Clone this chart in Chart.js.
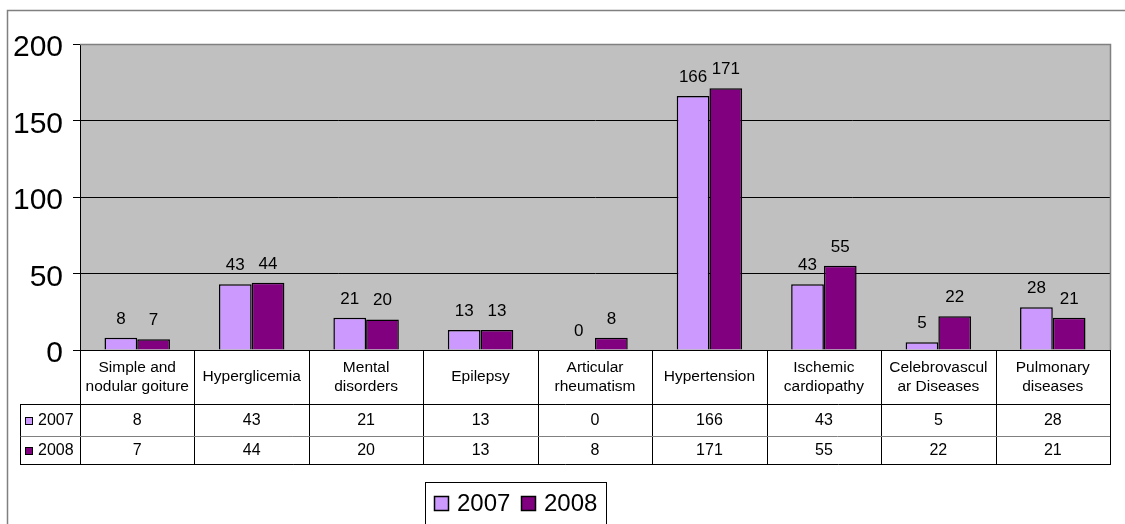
<!DOCTYPE html>
<html>
<head>
<meta charset="utf-8">
<script src="https://cdn.jsdelivr.net/npm/chart.js@4/dist/chart.umd.min.js"></script>
<style>
  html, body { margin: 0; padding: 0; background: #fff; }
  canvas { display: block; }
</style>
</head>
<body>
<canvas id="c" width="1125" height="524"></canvas>
<script>
// Disease categories (table header lines)
const categories = [
  ['Simple and', 'nodular goiture'],
  ['Hyperglicemia'],
  ['Mental', 'disorders'],
  ['Epilepsy'],
  ['Articular', 'rheumatism'],
  ['Hypertension'],
  ['Ischemic', 'cardiopathy'],
  ['Celebrovascul', 'ar Diseases'],
  ['Pulmonary', 'diseases']
];
const seriesNames = ['2007', '2008'];
const values2007 = [8, 43, 21, 13, 0, 166, 43, 5, 28];
const values2008 = [7, 44, 20, 13, 8, 171, 55, 22, 21];
const seriesColors = ['#CC99FF', '#800080'];
const yTicks = [0, 50, 100, 150, 200];

const FONT = '"Liberation Sans", Arial, Helvetica, sans-serif';

// Grey plot background, frame and outer border
const framePlugin = {
  id: 'frame',
  beforeDraw(chart) {
    const { ctx, chartArea: a } = chart;
    ctx.save();
    ctx.fillStyle = '#fff';
    ctx.fillRect(0, 0, chart.width, chart.height);
    ctx.strokeStyle = '#808080';
    ctx.lineWidth = 1.5;
    ctx.beginPath();
    ctx.moveTo(7.5, chart.height + 2);
    ctx.lineTo(7.5, 10.5);
    ctx.lineTo(chart.width + 2, 10.5);
    ctx.stroke();
    ctx.fillStyle = '#C0C0C0';
    ctx.fillRect(a.left, a.top, a.right - a.left, a.bottom - a.top);
    ctx.restore();
  },
  beforeDatasetsDraw(chart) {
    const { ctx, chartArea: a } = chart;
    ctx.save();
    ctx.strokeStyle = '#808080';
    ctx.lineWidth = 1.5;
    ctx.beginPath();
    ctx.moveTo(a.left, a.top + 0.5);
    ctx.lineTo(a.right + 0.5, a.top + 0.5);
    ctx.lineTo(a.right + 0.5, a.bottom);
    ctx.stroke();
    ctx.restore();
  }
};

// Value labels above each bar
const valueLabels = {
  id: 'valueLabels',
  afterDatasetsDraw(chart) {
    const { ctx } = chart;
    ctx.save();
    ctx.font = '17px ' + FONT;
    ctx.fillStyle = '#000';
    ctx.textAlign = 'center';
    ctx.textBaseline = 'alphabetic';
    chart.data.datasets.forEach((ds, di) => {
      chart.getDatasetMeta(di).data.forEach((el, i) => {
        ctx.fillText(String(ds.data[i]), el.x, el.y - 14);
      });
    });
    ctx.restore();
  }
};

// Data table under the plot plus the boxed legend
const dataTable = {
  id: 'dataTable',
  afterDraw(chart) {
    const { ctx, chartArea: a } = chart;
    const xs = chart.scales.x;
    const n = categories.length;
    const colW = (a.right - a.left) / n;
    const yTop = a.bottom;
    const yRow1 = yTop + 54;
    const yRow2 = yRow1 + 32;
    const yEnd = yRow2 + 28;
    const leftCol = 20.5;

    ctx.save();
    // cell borders
    ctx.lineWidth = 1;
    ctx.strokeStyle = '#000';
    ctx.beginPath();
    for (let i = 0; i <= n; i++) {
      const x = Math.round(a.left + i * colW) + 0.5;
      ctx.moveTo(x, yTop);
      ctx.lineTo(x, yEnd);
    }
    ctx.moveTo(leftCol, yRow1 + 0.5);
    ctx.lineTo(a.right + 1, yRow1 + 0.5);
    ctx.moveTo(leftCol, yEnd + 0.5);
    ctx.lineTo(a.right + 1, yEnd + 0.5);
    ctx.moveTo(leftCol, yRow1);
    ctx.lineTo(leftCol, yEnd + 1);
    ctx.stroke();
    ctx.strokeStyle = '#808080';
    ctx.beginPath();
    ctx.moveTo(leftCol, yRow2 + 0.5);
    ctx.lineTo(a.right, yRow2 + 0.5);
    ctx.stroke();

    // category names
    ctx.fillStyle = '#000';
    ctx.textAlign = 'center';
    ctx.textBaseline = 'middle';
    ctx.font = '15.5px ' + FONT;
    categories.forEach((lines, i) => {
      const cx = xs.getPixelForValue(i);
      const mid = (yTop + yRow1) / 2;
      const lh = 19;
      const start = mid - (lines.length - 1) * lh / 2;
      lines.forEach((t, k) => ctx.fillText(t, cx, start + k * lh));
    });

    // value rows
    ctx.font = '16px ' + FONT;
    const rows = [values2007, values2008];
    const rowMid = [(yRow1 + yRow2) / 2 + 1, (yRow2 + yEnd) / 2 + 1];
    rows.forEach((vals, r) => {
      vals.forEach((v, i) => ctx.fillText(String(v), xs.getPixelForValue(i), rowMid[r]));
      // series key in the first column
      ctx.fillStyle = seriesColors[r];
      ctx.fillRect(25, rowMid[r] - 4, 8, 8);
      ctx.strokeStyle = '#000';
      ctx.strokeRect(25.5, rowMid[r] - 3.5, 7, 7);
      ctx.fillStyle = '#000';
      ctx.textAlign = 'left';
      ctx.fillText(seriesNames[r], 38, rowMid[r]);
      ctx.textAlign = 'center';
    });

    // legend box
    ctx.strokeStyle = '#000';
    ctx.lineWidth = 1;
    ctx.strokeRect(425.5, 482.5, 181, 60);
    ctx.font = '24px ' + FONT;
    ctx.textAlign = 'left';
    const legendX = [434, 521];
    seriesNames.forEach((name, r) => {
      ctx.fillStyle = seriesColors[r];
      ctx.fillRect(legendX[r], 496, 15, 15);
      ctx.lineWidth = 1.5;
      ctx.strokeRect(legendX[r] + 0.5, 496.5, 14, 14);
      ctx.fillStyle = '#000';
      ctx.fillText(name, legendX[r] + 23, 504);
    });
    ctx.restore();
  }
};

new Chart(document.getElementById('c'), {
  type: 'bar',
  data: {
    labels: categories.map(l => l.join(' ')),
    datasets: [
      { label: seriesNames[0], data: values2007, backgroundColor: seriesColors[0], borderColor: '#000', borderWidth: 1.5 },
      { label: seriesNames[1], data: values2008, backgroundColor: seriesColors[1], borderColor: '#000', borderWidth: 1.5 }
    ]
  },
  options: {
    responsive: false,
    animation: false,
    devicePixelRatio: 1,
    layout: { padding: { left: 0, right: 15, top: 44, bottom: 174 } },
    datasets: { bar: { categoryPercentage: 0.572, barPercentage: 1.0 } },
    plugins: { legend: { display: false }, tooltip: { enabled: false } },
    scales: {
      x: {
        ticks: { display: false },
        grid: { display: false, drawTicks: false },
        border: { display: true, color: '#000', width: 1 },
        afterFit(s) { s.height = 0; }
      },
      y: {
        min: 0,
        max: 200,
        afterBuildTicks(s) { s.ticks = yTicks.map(v => ({ value: v })); },
        afterFit(s) { s.width = 80; },
        ticks: {
          font: { family: FONT, size: 30 },
          color: '#000',
          padding: 10,
          labelOffset: 4
        },
        grid: {
          color: ctx => (ctx.tick && ctx.tick.value === 200) ? 'rgba(0,0,0,0)' : '#000',
          tickColor: '#000',
          tickLength: 7,
          lineWidth: 1
        },
        border: { display: true, color: '#000', width: 1 }
      }
    }
  },
  plugins: [framePlugin, valueLabels, dataTable]
});
</script>
</body>
</html>
